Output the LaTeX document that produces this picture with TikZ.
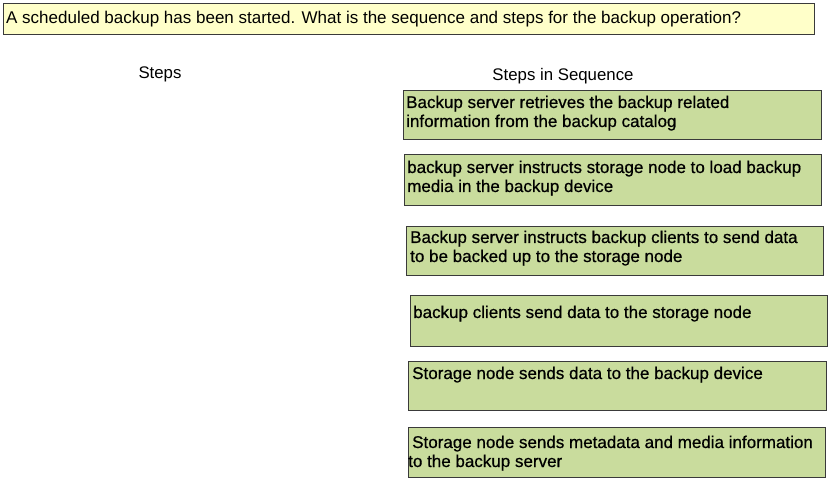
\documentclass[tikz,border=0pt]{standalone}
\usepackage{fontspec}
\setmainfont{Liberation Sans}
\newfontfamily\boxfont[FakeBold=0.6]{Liberation Sans}
\definecolor{boxgreen}{HTML}{C9DC9D}
\definecolor{banneryellow}{HTML}{FFFFC9}
\definecolor{edgegray}{HTML}{3A3A3A}
\tikzset{
  stepbox/.style={draw=edgegray, line width=1.3bp, fill=boxgreen, anchor=north west, inner sep=0pt},
  steptext/.style={anchor=base west, inner sep=0pt, align=left, font=\boxfont\fontsize{17bp}{19bp}\selectfont},
  questiontext/.style={anchor=base west, inner sep=0pt, font=\fontsize{17bp}{19bp}\selectfont},
  headtext/.style={anchor=base, inner sep=0pt, font=\fontsize{16.8bp}{19bp}\selectfont},
}
\begin{document}
\begin{tikzpicture}[x=1bp,y=-1bp]
\useasboundingbox[fill=white] (0,0) rectangle (835,481);
% banner
\node[draw=edgegray, line width=1.3bp, fill=banneryellow, anchor=north west, inner sep=0pt,
      minimum width=811bp, minimum height=31bp] (banner) at (3,3) {};
\node[questiontext] (question) at (6,24) {A scheduled backup has been started. What is the sequence and steps for the backup operation?};
% headings
\node[headtext] (steps) at (160,79) {Steps};
\node[headtext] (seq) at (563,81) {Steps in Sequence};
% boxes
\node[stepbox, minimum width=418bp, minimum height=49bp] (b1) at (403,90) {};
\node[stepbox, minimum width=417bp, minimum height=51bp] (b2) at (404,154) {};
\node[stepbox, minimum width=417bp, minimum height=49bp] (b3) at (406,226) {};
\node[stepbox, minimum width=417bp, minimum height=51bp] (b4) at (410,295) {};
\node[stepbox, minimum width=418bp, minimum height=49bp] (b5) at (408,361) {};
\node[stepbox, minimum width=417bp, minimum height=50bp] (b6) at (408,427) {};
% texts (multi-line nodes: base = baseline of last line)
\node[steptext] (t1) at (406,127) {Backup server retrieves the backup related\\information from the backup catalog};
\node[steptext] (t2) at (407,192) {backup server instructs storage node to load backup\\media in the backup device};
\node[steptext] (t3) at (410,262) {Backup server instructs backup clients to send data\\to be backed up to the storage node};
\node[steptext] (t4) at (413,318) {backup clients send data to the storage node};
\node[steptext] (t5) at (412,379) {Storage node sends data to the backup device};
\node[steptext] (t6) at (408,467) {\hspace{4bp}Storage node sends metadata and media information\\to the backup server};
\end{tikzpicture}
\end{document}
